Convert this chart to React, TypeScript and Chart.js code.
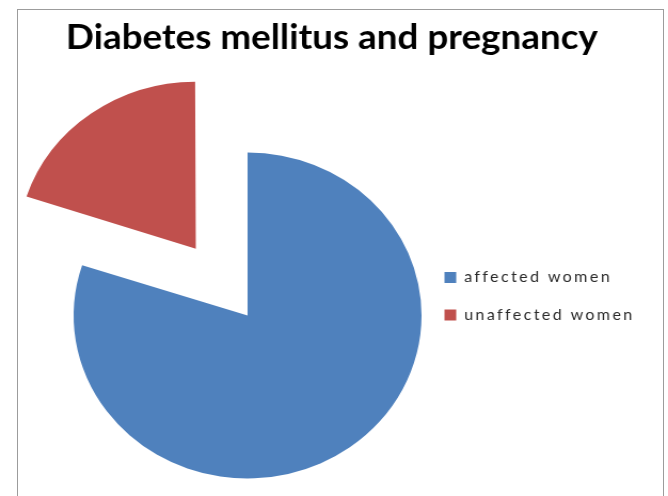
import React, { useEffect, useRef } from 'react';
import { Chart, registerables } from 'chart.js';

Chart.register(...registerables);

// ---- data ----
const categories = ['affected women', 'unaffected women'];
const values = [80, 20];
const titleText = 'Diabetes mellitus and pregnancy';

// ---- layout (internal canvas pixels; canvas is stretched horizontally by CSS) ----
const CANVAS_W = 626;
const CANVAS_H = 577;
const DISPLAY_W = 668;
const LEGEND_W = 158;
const LEGEND_SPACING = '2.25px';
const TITLE_EXTRA = 60;

const boxTweak = {
  id: 'boxTweak',
  beforeLayout(chart: any) {
    const lg = chart.legend;
    if (lg && !lg.__tweaked) {
      lg.__tweaked = true;
      const fit = lg.fit;
      lg.fit = function (this: any) {
        fit.call(this);
        this.width = LEGEND_W;
      };
      lg.draw = function (this: any) {
        if (!this.options.display) return;
        const ctx = this.ctx;
        ctx.save();
        ctx.letterSpacing = LEGEND_SPACING;
        this._draw();
        ctx.restore();
      };
    }
    const tb = chart.titleBlock;
    if (tb && !tb.__tweaked) {
      tb.__tweaked = true;
      const draw = tb.draw;
      tb.draw = function (this: any, ...args: any[]) {
        const l = this.left;
        const r = this.right;
        this.left = l - TITLE_EXTRA;
        this.right = r + TITLE_EXTRA;
        draw.apply(this, args);
        this.left = l;
        this.right = r;
      };
    }
  },
};

export default function App() {
  const ref = useRef<HTMLCanvasElement>(null);

  useEffect(() => {
    const canvas = ref.current;
    if (!canvas) return;
    const chart = new Chart(canvas, {
      type: 'pie',
      data: {
        labels: categories,
        datasets: [
          {
            data: values,
            backgroundColor: ['#4F81BD', '#C0504D'],
            borderWidth: 0,
            offset: [0, 330],
            radius: 163,
            cutout: '0%',
          } as any,
        ],
      },
      options: {
        responsive: false,
        animation: false,
        devicePixelRatio: 1,
        events: [],
        cutout: '0%',
        layout: { padding: { left: 70, right: 74, top: 16.25, bottom: 0.75 } },
        plugins: {
          title: {
            display: true,
            text: titleText,
            color: '#000000',
            font: { family: 'Lato', size: 34.5, weight: 'bold', lineHeight: 1 },
            padding: { top: 4, bottom: 0 },
          },
          legend: {
            display: true,
            position: 'right',
            align: 'center',
            labels: {
              boxWidth: 11,
              boxHeight: 11,
              padding: 22.5,
              color: '#2a2a2a',
              font: { family: 'Lato', size: 15 },
            },
          },
          tooltip: { enabled: false },
        },
      } as any,
      plugins: [boxTweak],
    });
    return () => chart.destroy();
  }, []);

  return (
    <div
      style={{
        position: 'fixed',
        left: 0,
        top: 0,
        width: DISPLAY_W,
        height: 496,
        overflow: 'hidden',
        background: '#ffffff',
      }}
    >
      <div
        style={{
          position: 'absolute',
          left: 17,
          top: 9,
          width: 645,
          height: 560,
          border: '1px solid #9c9c9c',
        }}
      />
      <canvas
        ref={ref}
        width={CANVAS_W}
        height={CANVAS_H}
        style={{
          position: 'absolute',
          left: 0,
          top: 0,
          width: DISPLAY_W + 'px',
          height: CANVAS_H + 'px',
        }}
      />
    </div>
  );
}
